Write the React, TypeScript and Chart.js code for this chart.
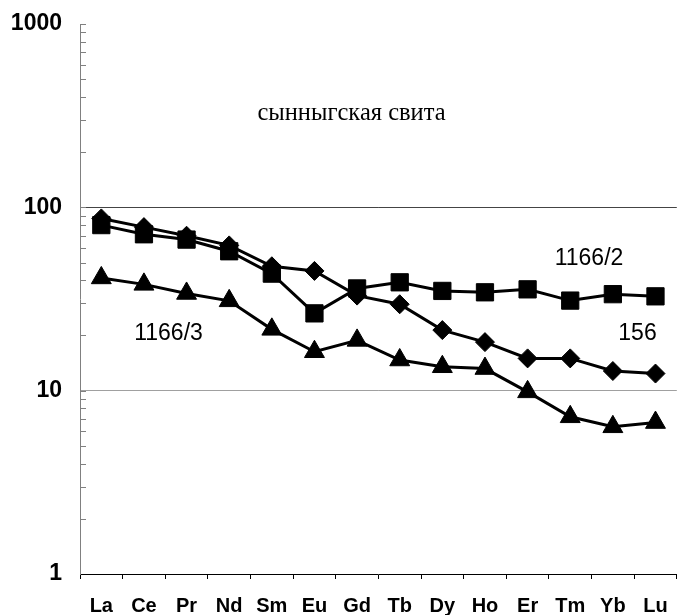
import React, { useEffect, useRef } from 'react';
import { Chart, registerables } from 'chart.js';

Chart.register(...registerables);

const elements = ['La', 'Ce', 'Pr', 'Nd', 'Sm', 'Eu', 'Gd', 'Tb', 'Dy', 'Ho', 'Er', 'Tm', 'Yb', 'Lu'];
const sample1166_2 = [80, 71.3, 66.7, 57.6, 43.5, 26.4, 36.1, 39, 35, 34.4, 35.7, 31, 33.6, 32.7];
const sample156 = [87, 78, 70, 62, 47.7, 45, 33, 29.6, 21.4, 18.4, 15.0, 15.0, 12.8, 12.4];
const sample1166_3 = [41.2, 38, 33.9, 30.9, 21.6, 16.3, 18.8, 14.7, 13.5, 13.2, 9.85, 7.2, 6.35, 6.7];
const yTickValues = [1, 2, 3, 4, 5, 6, 7, 8, 9, 10, 20, 30, 40, 50, 60, 70, 80, 90, 100, 200, 300, 400, 500, 600, 700, 800, 900, 1000];
const yLabeledTicks = [1, 10, 100, 1000];

const textPlugin = {
  id: 'texts',
  afterDraw(chart: any) {
    const ctx = chart.ctx;
    const y = chart.scales.y;
    const left = chart.chartArea.left;
    ctx.save();
    ctx.strokeStyle = '#808080';
    ctx.lineWidth = 1;
    y.ticks.forEach((t: any) => {
      if (t.value === 1) return;
      const py = Math.round(y.getPixelForValue(t.value)) + 0.5;
      ctx.beginPath();
      ctx.moveTo(left, py);
      ctx.lineTo(left + 6, py);
      ctx.stroke();
    });
    ctx.fillStyle = '#000';
    ctx.textAlign = 'center';
    ctx.textBaseline = 'alphabetic';
    ctx.font = '24.5px "Liberation Serif"';
    ctx.fillText('сынныгская свита', 351.5, 120);
    ctx.font = '23px "Liberation Sans"';
    ctx.fillText('1166/2', 589, 265);
    ctx.fillText('156', 637.5, 340);
    ctx.fillText('1166/3', 168.5, 340);
    ctx.restore();
  },
};

function makeDataset(label: string, data: number[], style: string, radius: number) {
  return {
    label,
    data,
    borderColor: '#000',
    backgroundColor: '#000',
    borderWidth: 3,
    pointStyle: style,
    pointRadius: radius,
    pointHoverRadius: radius,
    pointBackgroundColor: '#000',
    pointBorderColor: '#000',
    pointBorderWidth: 1,
    tension: 0,
    fill: false,
  };
}

function gridColor(c: any) {
  if (!c.tick) return 'rgba(0,0,0,0)';
  if (c.tick.value === 100) return '#444444';
  if (c.tick.value === 10) return '#a0a0a0';
  return 'rgba(0,0,0,0)';
}

export default function App() {
  const ref = useRef<HTMLCanvasElement | null>(null);
  useEffect(() => {
    if (!ref.current) return;
    const chart = new Chart(ref.current, {
      type: 'line',
      data: {
        labels: elements,
        datasets: [
          makeDataset('1166/3', sample1166_3, 'triangle', 11.5),
          makeDataset('1166/2', sample1166_2, 'rect', 12.2),
          makeDataset('156', sample156, 'rectRot', 9.5),
        ],
      },
      options: {
        responsive: false,
        animation: false,
        devicePixelRatio: 1,
        layout: { padding: { top: 24, right: 2, bottom: 0, left: 0 } },
        plugins: { legend: { display: false }, tooltip: { enabled: false }, title: { display: false } },
        scales: {
          x: {
            type: 'category',
            offset: true,
            grid: { offset: true, drawOnChartArea: false, drawTicks: true, tickLength: 5, color: '#000' },
            border: { color: '#000', width: 1 },
            ticks: {
              color: '#000',
              font: { family: '"Liberation Sans"', size: 20, weight: 'bold' },
              padding: 15,
              maxRotation: 0,
              autoSkip: false,
            },
            afterFit: (s: any) => { s.height = 41; },
          },
          y: {
            type: 'logarithmic',
            min: 1,
            max: 1000,
            afterBuildTicks: (s: any) => { s.ticks = yTickValues.map((v) => ({ value: v })); },
            grid: {
              drawTicks: true,
              tickLength: 18,
              tickColor: 'rgba(0,0,0,0)',
              color: gridColor,
            },
            border: { color: '#808080', width: 1 },
            ticks: {
              color: '#000',
              padding: 0,
              autoSkip: false,
              font: { family: '"Liberation Sans"', size: 23, weight: 'bold' },
              callback: (v: any) => (yLabeledTicks.includes(Number(v)) ? String(v) : ''),
            },
            afterFit: (s: any) => { s.width = 80; },
          },
        },
      },
      plugins: [textPlugin],
    });
    return () => chart.destroy();
  }, []);
  return (
    <div style={{ position: 'absolute', left: 0, top: 0, width: 680, height: 615, overflow: 'hidden', background: '#fff' }}>
      <canvas ref={ref} width={690} height={615} style={{ display: 'block', width: 690, height: 615 }} />
    </div>
  );
}
